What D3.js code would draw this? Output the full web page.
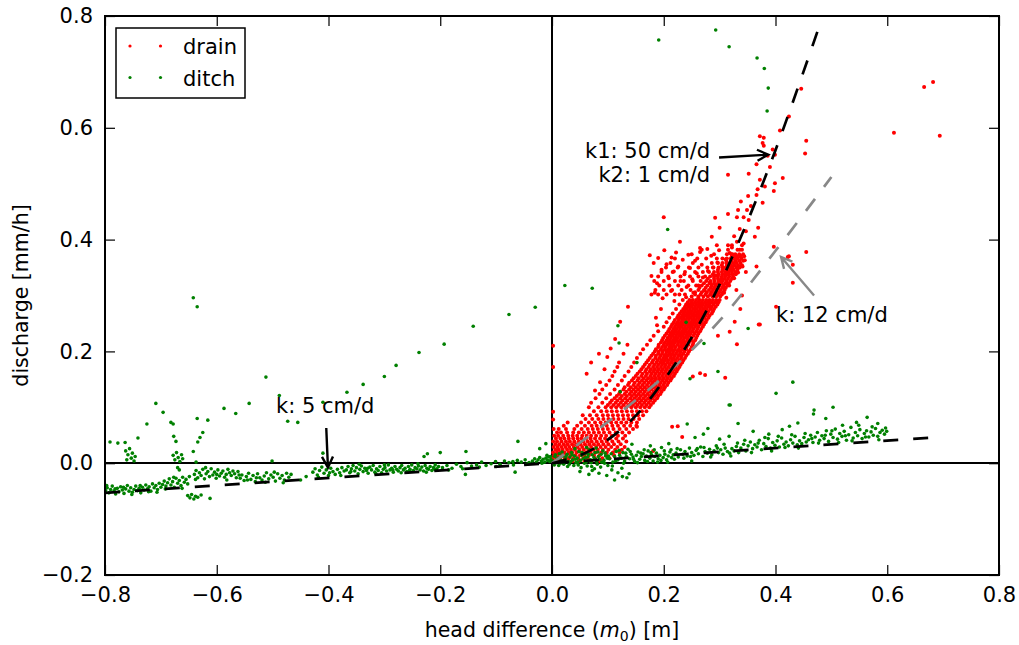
<!DOCTYPE html>
<meta charset="utf-8">
<title>Drain and ditch discharge</title>
<style>
  body {
    margin: 0;
    background: #fff;
  }
  text {
    font-family: "DejaVu Sans", sans-serif;
    fill: #000;
  }
</style>

<body>
  <script src="https://cdn.jsdelivr.net/npm/d3@7"></script>
  <script>
    var width = 1019,
      height = 645;

    const xTicks = [-0.8, -0.6, -0.4, -0.2, 0, 0.2, 0.4, 0.6, 0.8];
    const yTicks = [-0.2, 0, 0.2, 0.4, 0.6, 0.8];

    // drain discharge is logged in steps, so the dense part is kept per level: [q, h, h, ...]
    const drainRows = [
      [0.004, .003, .012, .019, .029, .037, .048, .058, .07, .086],
      [0.009, .001, .008, .014, .023, .03, .038, .047, .056, .064, .077, .09, .103],
      [0.014, .004, .01, .018, .025, .033, .042, .05, .058, .066, .075, .085, .097, .111],
      [0.019, .002, .009, .015, .022, .03, .036, .044, .053, .061, .069, .078, .088, .098, .109, .121],
      [0.024, .006, .012, .019, .027, .034, .041, .049, .057, .065, .074, .082, .091, .101, .113, .125],
      [0.029, .003, .01, .017, .024, .031, .039, .046, .054, .062, .07, .079, .087, .096, .106, .117, .13],
      [0.034, .006, .013, .021, .028, .036, .043, .051, .059, .067, .075, .083, .092, .101, .111, .123],
      [0.039, .002, .009, .017, .025, .032, .04, .048, .056, .064, .071, .08, .089, .098, .108, .119, .133],
      [0.044, .007, .015, .022, .03, .038, .046, .053, .061, .069, .077, .086, .095, .104, .115, .127],
      [0.049, .004, .011, .02, .029, .037, .045, .054, .062, .07, .079, .088, .097, .107, .118, .131],
      [0.055, .009, .016, .027, .038, .048, .057, .066, .075, .084, .093, .103, .114, .126, .138],
      [0.061, .012, .025, .04, .053, .064, .073, .082, .091, .1, .11, .121, .133, .145],
      [0.067, .021, .045, .059, .071, .08, .089, .098, .108, .118, .129, .14, .151],
      [0.073, .028, .052, .066, .077, .087, .096, .106, .115, .124, .133, .142, .152],
      [0.079, .06, .072, .083, .092, .101, .11, .119, .128, .137, .146, .156],
      [0.086, .055, .068, .08, .091, .1, .109, .118, .127, .136, .145, .154, .163],
      [0.093, .075, .088, .098, .107, .116, .125, .134, .143, .152, .161, .169],
      [0.1, .066, .083, .096, .106, .115, .124, .133, .142, .15, .158, .166, .174],
      [0.104, .1, .11, .119, .128, .137, .145, .153, .161, .169, .177],
      [0.108, .07, .09, .104, .114, .123, .132, .141, .149, .157, .165, .173, .181],
      [0.112, .107, .117, .126, .135, .144, .152, .16, .168, .176, .184],
      [0.116, .078, .097, .112, .122, .131, .14, .148, .156, .164, .172, .18, .188],
      [0.12, .116, .125, .134, .143, .151, .159, .167, .175, .183, .19],
      [0.124, .085, .104, .12, .13, .139, .147, .155, .163, .171, .179, .187, .194],
      [0.128, .122, .133, .142, .15, .158, .166, .174, .182, .189, .196],
      [0.132, .09, .112, .128, .138, .146, .154, .162, .17, .178, .186, .193, .2],
      [0.136, .13, .141, .15, .158, .166, .174, .181, .188, .195, .202],
      [0.14, .097, .118, .136, .146, .154, .162, .17, .178, .185, .192, .199, .206],
      [0.144, .138, .148, .157, .165, .173, .18, .187, .194, .201, .208],
      [0.148, .103, .125, .143, .153, .161, .169, .177, .184, .191, .198, .205, .212],
      [0.152, .146, .155, .164, .172, .179, .186, .193, .2, .207, .214],
      [0.156, .108, .13, .15, .16, .168, .176, .183, .19, .197, .204, .211, .218],
      [0.16, .153, .162, .17, .178, .185, .192, .199, .206, .213, .22],
      [0.164, .112, .137, .157, .167, .175, .182, .189, .196, .203, .21, .216, .223],
      [0.168, .16, .169, .177, .184, .191, .198, .205, .212, .218, .225],
      [0.172, .117, .142, .163, .173, .181, .188, .195, .202, .208, .215, .221, .228],
      [0.176, .166, .175, .183, .19, .197, .203, .21, .217, .223, .23],
      [0.18, .12, .147, .169, .179, .187, .194, .2, .207, .213, .22, .226, .233],
      [0.184, .172, .181, .189, .196, .202, .208, .215, .221, .228, .235],
      [0.188, .152, .175, .185, .192, .199, .205, .212, .218, .224, .231, .238],
      [0.192, .178, .186, .194, .201, .207, .213, .219, .226, .232, .24],
      [0.196, .128, .158, .181, .19, .197, .204, .21, .216, .222, .229, .235, .243],
      [0.2, .184, .191, .198, .205, .211, .217, .224, .23, .237, .245],
      [0.204, .163, .186, .195, .202, .208, .214, .22, .227, .233, .24, .248],
      [0.208, .19, .197, .203, .21, .215, .221, .228, .234, .241, .25],
      [0.212, .135, .17, .191, .2, .206, .212, .218, .225, .231, .237, .244, .252],
      [0.216, .195, .202, .208, .214, .22, .226, .232, .238, .245, .253],
      [0.22, .176, .197, .205, .211, .217, .223, .229, .235, .242, .249, .256],
      [0.224, .199, .207, .213, .219, .225, .231, .237, .243, .25, .258],
      [0.228, .182, .202, .21, .216, .222, .228, .234, .24, .246, .253, .26],
      [0.232, .205, .212, .218, .224, .23, .236, .242, .248, .255, .262],
      [0.236, .19, .208, .215, .221, .227, .233, .239, .245, .251, .258, .265],
      [0.24, .21, .217, .223, .229, .235, .241, .247, .253, .26, .267],
      [0.244, .2, .213, .22, .226, .232, .238, .244, .25, .256, .262, .27],
      [0.248, .215, .222, .228, .234, .24, .246, .252, .258, .265, .272],
      [0.252, .205, .218, .225, .231, .237, .243, .249, .255, .261, .268, .275],
      [0.256, .22, .227, .233, .239, .245, .251, .257, .263, .27, .277],
      [0.26, .186, .21, .224, .23, .236, .242, .248, .254, .26, .266, .273, .28],
      [0.264, .226, .233, .239, .245, .251, .257, .263, .269, .275, .282],
      [0.268, .216, .229, .236, .242, .248, .254, .26, .266, .272, .278, .286],
      [0.272, .232, .238, .244, .25, .256, .262, .268, .274, .28, .288],
      [0.276, .195, .222, .235, .241, .247, .253, .259, .265, .271, .277, .284, .29],
      [0.28, .238, .244, .25, .256, .262, .268, .274, .28, .286, .293],
      [0.284, .228, .24, .246, .252, .258, .264, .27, .276, .282, .289, .296],
      [0.288, .243, .25, .256, .262, .268, .274, .28, .286, .292, .298],
      [0.292, .234, .246, .252, .258, .264, .27, .276, .282, .288, .294, .3],
      [0.298, .25, .262, .271, .279, .287, .294, .301],
      [0.302, .178, .19, .205, .22, .238, .256, .266, .275, .283, .29, .297, .304],
      [0.306, .256, .268, .277, .285, .292, .299, .306],
      [0.31, .185, .2, .215, .232, .248, .262, .272, .281, .288, .295, .302, .309],
      [0.314, .264, .275, .284, .291, .298, .305, .311],
      [0.318, .192, .21, .226, .244, .258, .268, .278, .286, .293, .3, .307, .314],
      [0.322, .272, .283, .29, .297, .303, .31, .316],
      [0.326, .183, .2, .22, .236, .252, .266, .276, .284, .291, .298, .305, .312, .319],
      [0.33, .279, .29, .297, .303, .309, .315, .322],
      [0.334, .19, .208, .23, .247, .262, .274, .283, .29, .297, .304, .31, .317, .324],
      [0.338, .288, .298, .305, .311, .317, .323, .329],
      [0.342, .196, .216, .238, .256, .27, .281, .29, .297, .304, .31, .316, .322, .328],
      [0.346, .297, .306, .313, .319, .325, .332],
      [0.35, .204, .225, .245, .262, .278, .289, .298, .305, .311, .317, .323, .33, .336],
      [0.354, .304, .313, .32, .326, .333, .34],
      [0.358, .212, .252, .286, .297, .305, .312, .318, .324, .33, .337],
      [0.362, .312, .321, .328, .335, .342],
      [0.366, .22, .26, .295, .305, .313, .32, .326, .332, .339],
      [0.37, .322, .33, .337, .344],
      [0.374, .25, .29, .313, .321, .328, .335, .342],
      [0.382, .268, .315, .332, .34],
      [0.39, .295, .322, .34]
    ];

    // drain points outside the dense band
    const drainScatter = [
      [.175, .372], [.182, .358], [.178, .335], [.19, .367], [.196, .346], [.188, .322], [.201, .381],
      [.205, .356], [.209, .331], [.214, .368], [.218, .343], [.213, .308], [.222, .377], [.226, .352],
      [.23, .326], [.228, .302], [.234, .364], [.237, .338], [.241, .315], [.244, .373], [.247, .349],
      [.251, .329], [.253, .305], [.256, .362], [.259, .34], [.262, .318], [.265, .378], [.268, .355],
      [.27, .332], [.273, .309], [.276, .366], [.279, .344], [.282, .323], [.285, .371], [.288, .35],
      [.29, .313], [.293, .336], [.296, .359], [.299, .381], [.302, .327], [.305, .346], [.308, .305],
      [.311, .365], [.314, .338], [.317, .318], [.32, .352], [.323, .374], [.326, .331], [.329, .36],
      [.333, .341], [.337, .37], [.341, .352], [.345, .363], [.198, .295], [.219, .29], [.184, .305],
      [.24, .297], [.262, .296], [.33, .31], [.312, .296],
      [.372, .585], [.379, .582], [.377, .573], [.379, .568], [.395, .561], [.386, .55], [.399, .552],
      [.366, .535], [.39, .53], [.315, .516], [.352, .518], [.399, .501], [.372, .507], [.413, .51],
      [.397, .487], [.381, .495], [.368, .49], [.366, .48], [.351, .478], [.338, .468], [.377, .466],
      [.356, .46], [.349, .453], [.333, .453], [.315, .446], [.331, .44], [.292, .439], [.343, .44],
      [.352, .435], [.3, .421], [.336, .419], [.347, .415], [.369, .421], [.286, .405], [.326, .406],
      [.363, .405], [.331, .396], [.343, .393], [.315, .39], [.322, .386], [.265, .385], [.278, .383],
      [.336, .382], [.318, .376], [.327, .372], [.229, .396], [.2, .44], [.397, .387], [.422, .369],
      [.455, .378], [.431, .355], [.366, .352], [.347, .342],
      [.446, .67], [.424, .62], [.408, .595], [.455, .577], [.453, .554], [.612, .591], [.666, .673],
      [.682, .682], [.694, .586], [.431, .323], [.401, .28], [.37, .248], [.424, .37], [.136, .28],
      [.122, .253], [.188, .247], [.31, .153], [.331, .213], [.274, .158], [.265, .161], [.252, .155],
      [.372, .248], [.215, .065], [.233, .047], [.225, .066], [.181, .022], [.152, .065], [.084, .196],
      [.077, .13], [.34, .3], [.327, .253], [.318, .235], [.297, .228], [.337, .276],
      [.002, .172], [.002, .21], [.002, .092], [.002, .078], [.003, .061],
      [.062, .16], [.07, .18], [.086, .145], [.094, .168], [.105, .205], [.113, .222], [.099, .19]
    ];

    const ditch = [
      // far left cluster
      [-.799, -.049], [-.796, -.044], [-.793, -.053], [-.79, -.047], [-.787, -.041], [-.784, -.05],
      [-.781, -.055], [-.778, -.045], [-.775, -.051], [-.772, -.042], [-.769, -.048], [-.766, -.054],
      [-.763, -.046], [-.76, -.04], [-.757, -.05], [-.754, -.044], [-.751, -.052], [-.748, -.047],
      [-.745, -.041], [-.742, -.049], [-.739, -.045], [-.736, -.053], [-.733, -.043], [-.73, -.048],
      [-.727, -.039], [-.724, -.046], [-.721, -.042], [-.718, -.05], [-.715, -.037], [-.712, -.044],
      [-.709, -.04], [-.706, -.047], [-.703, -.036], [-.7, -.043],
      [-.797, -.04], [-.782, -.046], [-.767, -.043], [-.752, -.056], [-.737, -.04], [-.722, -.051],
      [-.707, -.052], [-.692, -.046],
      [-.697, -.038], [-.694, -.032], [-.691, -.041], [-.688, -.035], [-.685, -.028], [-.682, -.039],
      [-.679, -.033], [-.676, -.043], [-.673, -.027], [-.67, -.036], [-.667, -.031], [-.664, -.04],
      [-.661, -.025], [-.658, -.034], [-.655, -.029], [-.652, -.037], [-.649, -.024],
      [-.677, -.025], [-.662, -.045],
      [-.652, -.058], [-.648, -.062], [-.645, -.056], [-.641, -.064], [-.638, -.059], [-.634, -.061],
      [-.628, -.057], [-.612, -.063],
      [-.64, -.02], [-.637, -.013], [-.634, -.026], [-.631, -.017], [-.628, -.022], [-.625, -.011],
      [-.622, -.028], [-.619, -.019], [-.616, -.015], [-.613, -.024], [-.61, -.01], [-.607, -.021],
      [-.604, -.016], [-.601, -.027], [-.598, -.012], [-.595, -.023], [-.592, -.018], [-.589, -.014],
      [-.586, -.025], [-.583, -.02], [-.58, -.011], [-.577, -.017], [-.574, -.022], [-.571, -.014],
      [-.568, -.019], [-.565, -.026], [-.562, -.015], [-.638, -.029], [-.62, -.008], [-.6, -.02],
      [-.582, -.03],
      [-.558, -.027], [-.555, -.021], [-.551, -.031], [-.547, -.024], [-.543, -.018], [-.539, -.029],
      [-.535, -.022], [-.531, -.033], [-.527, -.019], [-.523, -.026], [-.519, -.03], [-.515, -.023],
      [-.511, -.017], [-.507, -.028], [-.503, -.021], [-.499, -.025], [-.495, -.032], [-.491, -.019],
      [-.487, -.027], [-.483, -.022], [-.479, -.03], [-.475, -.018], [-.471, -.025], [-.467, -.02],
      [-.56, -.021], [-.545, -.03], [-.529, -.026], [-.513, -.034], [-.497, -.016], [-.481, -.035],
      [-.45, -.03], [-.44, -.024],
      [-.428, -.016], [-.424, -.01], [-.42, -.021], [-.416, -.013], [-.412, -.007], [-.408, -.018],
      [-.404, -.012], [-.4, -.022], [-.396, -.009], [-.392, -.015], [-.388, -.02], [-.384, -.011],
      [-.38, -.017], [-.376, -.008], [-.372, -.014], [-.418, -.025], [-.398, -.017], [-.378, -.022],
      // dense stretch
      [-.368, -.012], [-.365, -.006], [-.362, -.017], [-.359, -.01], [-.356, -.004], [-.353, -.014],
      [-.35, -.008], [-.347, -.019], [-.344, -.011], [-.341, -.005], [-.338, -.015], [-.335, -.009],
      [-.332, -.013], [-.329, -.018], [-.326, -.007], [-.323, -.012], [-.32, -.004], [-.317, -.016],
      [-.314, -.01], [-.311, -.013], [-.308, -.006], [-.305, -.017], [-.302, -.011], [-.299, -.008],
      [-.296, -.014], [-.293, -.003], [-.29, -.012], [-.287, -.009], [-.284, -.016], [-.281, -.006],
      [-.278, -.011], [-.275, -.014], [-.272, -.008], [-.269, -.004], [-.266, -.012], [-.263, -.009],
      [-.26, -.015], [-.257, -.006], [-.254, -.011], [-.251, -.003], [-.248, -.013], [-.245, -.008],
      [-.242, -.01], [-.239, -.005], [-.236, -.012], [-.233, -.007], [-.23, -.014], [-.227, -.004],
      [-.224, -.009], [-.221, -.011], [-.218, -.006], [-.215, -.013], [-.212, -.008], [-.209, -.003],
      [-.206, -.01], [-.203, -.006],
      [-.36, -.015], [-.345, -.002], [-.33, -.009], [-.315, -.019], [-.3, -.003], [-.285, -.012],
      [-.27, -.017], [-.255, -.013], [-.24, -.001], [-.225, -.016], [-.21, -.011],
      [-.196, -.008], [-.188, -.004], [-.179, -.009], [-.171, -.002], [-.163, -.006], [-.152, .001],
      [-.144, -.005], [-.135, -.003], [-.126, .002], [-.118, -.004], [-.109, -.001], [-.101, .003],
      [-.093, -.002], [-.085, .004], [-.077, .001], [-.069, -.003], [-.062, .005], [-.055, .002],
      [-.048, .006], [-.041, .001], [-.066, -.016], [-.155, -.02],
      [-.185, -.012], [-.16, -.01], [-.13, -.007], [-.1, -.006], [-.07, .003], [-.045, -.002],
      [-.035, .004], [-.031, .008], [-.028, .002], [-.025, .006], [-.022, .01], [-.019, .004],
      [-.016, .007], [-.013, .002], [-.011, .009], [-.008, .005], [-.006, .011], [-.004, .003],
      [-.002, .007], [-.018, .0], [-.009, .014], [-.003, .012],
      // upward strays on the negative side
      [-.512, .154], [-.488, .121], [-.473, .075], [-.455, .073], [-.41, .109], [-.367, .127],
      [-.338, .141], [-.3, .155], [-.279, .175], [-.238, .198], [-.193, .213], [-.141, .245],
      [-.077, .266], [-.03, .279], [.023, .318], [.072, .313], [-.642, .296], [-.635, .28],
      [-.709, .107], [-.696, .091], [-.725, .07], [-.791, .038], [-.777, .036], [-.764, .037],
      [-.741, .045], [-.682, .073], [-.678, .07], [-.677, .048], [-.673, .039], [-.635, .08],
      [-.616, .077], [-.625, .055], [-.63, .046], [-.634, .038], [-.642, .021], [-.637, .002],
      [-.587, .098], [-.566, .089], [-.542, .107], [-.501, .004], [-.061, .039], [-.154, .021],
      [-.2, .019], [-.223, .017], [-.229, .012], [-.41, .018], [-.022, .026], [-.011, .035],
      [-.763, .022], [-.759, .015], [-.756, .026], [-.753, .009], [-.751, .018], [-.748, .004],
      [-.746, .012], [-.761, .006],
      [-.678, .014], [-.675, .006], [-.672, .019], [-.669, .01], [-.666, .003], [-.663, .015],
      [-.661, .008], [-.67, -.008], [-.667, -.012],
      // positive side strays
      [.191, .757], [.293, .775], [.317, .745], [.367, .725], [.38, .706], [.387, .671], [.385, .63],
      [.207, .418], [.118, .246], [.24, .252], [.351, .241], [.297, .164], [.431, .145], [.401, .125],
      [.317, .104], [.12, .215], [.152, .18], [.122, .128], [.247, .151], [.272, .214], [.319, .104],
      // positive band
      [.002, .004], [.005, .012], [.008, .001], [.011, .009], [.013, .017], [.016, .005], [.019, .013],
      [.021, -.002], [.024, .008], [.027, .016], [.029, .003], [.032, .011], [.035, .019], [.037, .006],
      [.04, .013], [.043, .001], [.045, .009], [.048, .021], [.051, .005], [.053, .014], [.056, .008],
      [.059, .017], [.061, .002], [.064, .011], [.067, .024], [.069, .006], [.072, .015], [.075, .01],
      [.077, .019], [.08, .003], [.083, .012], [.085, .007], [.088, .016], [.091, .022], [.093, .005],
      [.096, .013], [.099, .009],
      [.004, -.003], [.009, .007], [.015, .0], [.022, .004], [.028, -.006], [.034, .003], [.039, -.004],
      [.046, .002], [.052, -.008], [.058, .0], [.063, -.005], [.07, .001], [.076, -.01], [.081, -.002],
      [.087, -.007], [.094, .0], [.1, -.004], [.041, .026], [.062, .028], [.079, .027],
      [.006, .015], [.012, -.004], [.018, .02], [.025, .012], [.031, -.002], [.036, .015], [.042, .007],
      [.047, -.003], [.054, .019], [.06, .01], [.065, .016], [.071, -.006], [.078, .007], [.082, .02],
      [.089, .002], [.095, .018],
      [.05, -.015], [.066, -.02], [.072, -.013], [.084, -.018], [.098, -.022], [.107, -.012],
      [.118, -.017], [.126, -.024], [.134, -.026], [.138, -.019], [.125, -.009], [.112, -.03],
      [.103, .008], [.106, .017], [.109, .002], [.112, .012], [.115, .021], [.118, .006], [.121, .014],
      [.124, .009], [.127, .019], [.13, .004], [.133, .012], [.136, .025], [.139, .008], [.142, .016],
      [.145, .011], [.148, .003], [.151, .014], [.154, .02], [.157, .007], [.16, .012], [.163, .017],
      [.166, .005], [.169, .013], [.172, .022], [.175, .009], [.178, .015], [.181, .004], [.184, .012],
      [.187, .018], [.19, .008], [.193, .014], [.196, .028], [.199, .01], [.202, .016], [.205, .006],
      [.208, .013], [.211, .02], [.214, .01], [.217, .015], [.143, .034], [.176, .031], [.209, .035],
      [.101, .013], [.108, -.005], [.114, .004], [.12, .023], [.128, .0], [.132, .018], [.14, .021],
      [.146, .007], [.153, .001], [.159, .018], [.165, .024], [.171, .003], [.177, .019], [.183, .024],
      [.189, .002], [.195, .005], [.201, .022], [.207, .002], [.213, .024], [.219, .007],
      [.222, .018], [.226, .011], [.23, .024], [.234, .016], [.238, .021], [.242, .013], [.246, .027],
      [.25, .019], [.254, .014], [.258, .023], [.262, .017], [.266, .029], [.27, .012], [.274, .021],
      [.278, .018], [.282, .025], [.286, .015], [.29, .022], [.294, .031], [.298, .019], [.302, .024],
      [.306, .016], [.31, .027], [.314, .021], [.318, .018], [.322, .026], [.326, .022], [.33, .03],
      [.334, .019], [.25, .004], [.256, .046], [.271, .052], [.3, .043], [.317, .048],
      [.224, .026], [.236, .009], [.248, .012], [.26, .026], [.272, .028], [.284, .011], [.296, .027],
      [.308, .034], [.32, .013], [.332, .036],
      [.338, .027], [.343, .034], [.347, .022], [.351, .031], [.355, .038], [.359, .026], [.363, .033],
      [.367, .029], [.371, .041], [.375, .024], [.379, .035], [.383, .03], [.387, .044], [.391, .027],
      [.395, .037], [.399, .032], [.403, .04], [.407, .029], [.411, .045], [.415, .034], [.419, .038],
      [.423, .031], [.427, .042], [.431, .036], [.435, .048], [.439, .033], [.443, .04], [.447, .035],
      [.451, .046], [.455, .038], [.36, .057], [.388, .052], [.412, .06], [.425, .066], [.44, .072],
      [.333, .071], [.242, .07], [.279, .062],
      [.345, .041], [.357, .019], [.369, .036], [.381, .046], [.393, .022], [.405, .048], [.417, .028],
      [.429, .051], [.441, .027], [.453, .053],
      [.459, .042], [.463, .05], [.467, .037], [.471, .047], [.475, .055], [.479, .041], [.483, .049],
      [.487, .044], [.491, .058], [.495, .039], [.499, .052], [.503, .046], [.507, .061], [.511, .043],
      [.515, .053], [.519, .048], [.523, .057], [.527, .041], [.531, .051], [.535, .064], [.539, .045],
      [.543, .055], [.547, .049], [.551, .06], [.555, .044], [.559, .053], [.563, .058], [.567, .047],
      [.571, .056], [.575, .05], [.579, .062], [.583, .048], [.587, .055], [.591, .059], [.595, .052],
      [.599, .057], [.564, .082], [.583, .071], [.545, .073], [.52, .068], [.49, .08], [.468, .088],
      [.503, .1], [.469, .095],
      [.465, .044], [.477, .036], [.489, .05], [.501, .058], [.513, .037], [.525, .049], [.537, .04],
      [.549, .068], [.561, .047], [.573, .065], [.585, .042], [.597, .063]
    ];

    // fitted model curves
    const fitTwoLayer = [[0, 0], [.05, .014], [.1, .042], [.15, .085], [.2, .148], [.25, .225],
      [.3, .32], [.35, .433], [.4, .56], [.45, .7], [.476, .775]];
    const fitDrain12 = [[0, 0], [.1, .074], [.2, .155], [.3, .255], [.4, .38], [.5, .512]];
    const fitDitch5 = [[-0.8, -0.053], [0.7, 0.047]];

    const notes = [
      { lines: ["k1: 50 cm/d", "k2: 1 cm/d"], anchor: "end", at: [.283, .546], tail: [.299, .547], tip: [.387, .552], color: "#000" },
      { lines: ["k: 12 cm/d"], anchor: "start", at: [.401, .253], tail: [.469, .3], tip: [.41, .369], color: "#888" },
      { lines: ["k: 5 cm/d"], anchor: "start", at: [-.494, .089], tail: [-.404, .063], tip: [-.401, -.008], color: "#000" }
    ];

    var x = d3.scaleLinear().domain([-0.8, 0.8]).range([105, 999]);
    var y = d3.scaleLinear().domain([-0.2, 0.8]).range([575, 16]);

    var svg = d3.select("body").append("svg")
      .attr("width", width)
      .attr("height", height);

    svg.append("clipPath").attr("id", "plot")
      .append("rect")
      .attr("x", x(-0.8)).attr("y", y(0.8))
      .attr("width", x(0.8) - x(-0.8)).attr("height", y(-0.2) - y(0.8));

    var plot = svg.append("g").attr("clip-path", "url(#plot)");

    // zero lines
    var y0px = Math.round(y(0)), x0px = Math.round(x(0));
    plot.append("line")
      .attr("x1", x(-0.8)).attr("x2", x(0.8)).attr("y1", y0px).attr("y2", y0px)
      .attr("stroke", "#000").attr("stroke-width", 2);
    plot.append("line")
      .attr("x1", x0px).attr("x2", x0px).attr("y1", y(-0.2)).attr("y2", y(0.8))
      .attr("stroke", "#000").attr("stroke-width", 2);

    const drainPts = drainRows.flatMap(r => r.slice(1).map(h => [h, r[0]])).concat(drainScatter);

    plot.append("g").selectAll("circle").data(drainPts)
      .enter().append("circle")
      .attr("cx", d => x(d[0]))
      .attr("cy", d => y(d[1]))
      .attr("r", 2)
      .attr("fill", "#ff0000");

    plot.append("g").selectAll("circle").data(ditch)
      .enter().append("circle")
      .attr("cx", d => x(d[0]))
      .attr("cy", d => y(d[1]))
      .attr("r", 1.8)
      .attr("fill", "#008000");

    var line = d3.line().x(d => x(d[0])).y(d => y(d[1])).curve(d3.curveCatmullRom);

    [[fitDitch5, "#000"], [fitDrain12, "#888"], [fitTwoLayer, "#000"]].forEach(([pts, col]) => {
      plot.append("path")
        .datum(pts)
        .attr("d", line)
        .attr("fill", "none")
        .attr("stroke", col)
        .attr("stroke-width", 2.7)
        .attr("stroke-dasharray", "15,15");
    });

    // frame and ticks
    svg.append("rect")
      .attr("x", x(-0.8)).attr("y", y(0.8))
      .attr("width", x(0.8) - x(-0.8)).attr("height", y(-0.2) - y(0.8))
      .attr("fill", "none").attr("stroke", "#000").attr("stroke-width", 2);

    var fmt = d3.format(".1f");

    function styleAxis(g, labels) {
      g.select(".domain").remove();
      g.selectAll(".tick line").attr("stroke", "#000").attr("stroke-width", 1.2);
      g.selectAll(".tick text").style("font-size", "21px").attr("fill", "#000");
      if (!labels) g.selectAll(".tick text").remove();
    }

    svg.append("g").attr("transform", `translate(0,${y(-0.2)})`)
      .call(d3.axisBottom(x).tickValues(xTicks).tickFormat(fmt).tickSize(-10).tickPadding(12))
      .call(g => styleAxis(g, true));
    svg.append("g").attr("transform", `translate(0,${y(0.8)})`)
      .call(d3.axisTop(x).tickValues(xTicks).tickSize(-10))
      .call(g => styleAxis(g, false));
    svg.append("g").attr("transform", `translate(${x(-0.8)},0)`)
      .call(d3.axisLeft(y).tickValues(yTicks).tickFormat(fmt).tickSize(-10).tickPadding(12))
      .call(g => styleAxis(g, true));
    svg.append("g").attr("transform", `translate(${x(0.8)},0)`)
      .call(d3.axisRight(y).tickValues(yTicks).tickSize(-10))
      .call(g => styleAxis(g, false));

    // axis labels
    var xl = svg.append("text")
      .attr("x", x(0)).attr("y", 637)
      .attr("text-anchor", "middle")
      .style("font-size", "20.5px");
    xl.append("tspan").text("head difference (");
    xl.append("tspan").style("font-style", "italic").text("m");
    xl.append("tspan").attr("dy", 4).style("font-size", "14px").text("0");
    xl.append("tspan").attr("dy", -4).text(") [m]");

    svg.append("text")
      .attr("transform", `translate(28,${(y(0.8) + y(-0.2)) / 2}) rotate(-90)`)
      .attr("text-anchor", "middle")
      .style("font-size", "20.5px")
      .text("discharge [mm/h]");

    // annotations
    notes.forEach(n => {
      var t = svg.append("text")
        .attr("x", x(n.at[0])).attr("y", y(n.at[1]))
        .attr("text-anchor", n.anchor)
        .style("font-size", "21px");
      n.lines.forEach((s, i) => {
        t.append("tspan").attr("x", x(n.at[0])).attr("dy", i ? 24 : 0).text(s);
      });
      var x0 = x(n.tail[0]), y0 = y(n.tail[1]), x1 = x(n.tip[0]), y1 = y(n.tip[1]);
      var a = Math.atan2(y1 - y0, x1 - x0), hl = 11, hw = 5.5;
      var bx = x1 - hl * Math.cos(a), by = y1 - hl * Math.sin(a);
      var px = -Math.sin(a) * hw, py = Math.cos(a) * hw;
      svg.append("path")
        .attr("d", `M${x0},${y0}L${x1},${y1}M${bx + px},${by + py}L${x1},${y1}L${bx - px},${by - py}`)
        .attr("fill", "none")
        .attr("stroke", n.color)
        .attr("stroke-width", 2.4);
    });

    // legend
    var legend = svg.append("g");
    legend.append("rect")
      .attr("x", 116).attr("y", 28).attr("width", 129).attr("height", 70)
      .attr("fill", "#fff").attr("stroke", "#000").attr("stroke-width", 1.5);
    [["drain", "#ff0000"], ["ditch", "#008000"]].forEach(([name, col], i) => {
      var yy = 46 + i * 31.5;
      legend.selectAll(null).data([130, 160.5]).enter().append("circle")
        .attr("cx", d => d).attr("cy", yy).attr("r", 1.6).attr("fill", col);
      legend.append("text")
        .attr("x", 183).attr("y", yy + 8)
        .style("font-size", "21px")
        .text(name);
    });
  </script>
</body>
